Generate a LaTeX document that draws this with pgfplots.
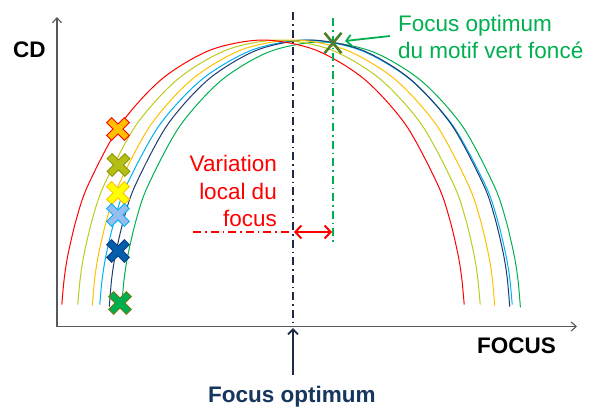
\documentclass[border=0pt]{standalone}
\usepackage{fontspec}
\setmainfont{Liberation Sans}
\usepackage{pgfplots}
\pgfplotsset{compat=1.18}
\usetikzlibrary{arrows.meta}
\definecolor{cRed}{HTML}{FF0000}
\definecolor{cYG}{HTML}{BCCB1C}
\definecolor{cOr}{HTML}{FFC000}
\definecolor{cLB}{HTML}{00B0F0}
\definecolor{cNavy}{HTML}{1F3A6E}
\definecolor{cGreen}{HTML}{00B050}
\definecolor{cAxis}{HTML}{595959}
\definecolor{cDark}{HTML}{1F2A44}
\definecolor{cTitle}{HTML}{17365D}
\definecolor{cOlive}{HTML}{4E7D2A}
\begin{document}
\begin{tikzpicture}
\begin{axis}[name=ax, scale only axis, width=597pt, height=407pt,
  xmin=0, xmax=597, ymin=0, ymax=407, y dir=reverse, hide axis, clip=false]
% axes
\addplot[cAxis, line width=1.1pt, -{Straight Barb[length=5pt,width=9pt]}] coordinates {(57,326.5) (577,326.5)};
\addplot[cAxis, line width=1.1pt, -{Straight Barb[length=5pt,width=9pt]}] coordinates {(57,326.5) (57,17)};
% curves
\addplot[cGreen, line width=1pt, smooth] coordinates {(121.6,307.4)(124,280)(127.8,255.5)(136.2,219.8)(147.8,186)(179.6,126.4)(221,80.6)(269.2,51.8)(321,42)(372.8,51.8)(421,80.6)(462.6,126.4)(494.2,186)(505.8,219.8)(514.2,255.5)(518,280)(520.4,307.4)};
\addplot[cLB, line width=1pt, smooth] coordinates {(99.8,304.7)(102.1,279.6)(106.1,254.9)(114.8,219)(126.7,185)(159.6,124.9)(202.5,78.9)(252.4,49.9)(306,40)(359.6,49.9)(409.5,78.9)(452.4,124.9)(485.3,185)(497.2,219)(505.9,254.9)(509.9,279.6)(512.2,304.7)};
\addplot[cNavy, line width=1pt, smooth] coordinates {(109.3,306.7)(111.6,279.6)(115.4,254.9)(123.8,219)(135.4,185)(167.4,124.9)(209,78.9)(257.5,49.9)(309.5,40)(361.5,49.9)(410,78.9)(451.6,124.9)(483.6,185)(495.2,219)(503.6,254.9)(507.4,279.6)(509.7,306.7)};
\addplot[cOr, line width=1pt, smooth] coordinates {(92.3,305.7)(94.6,279.6)(98.4,254.9)(106.9,219)(118.6,185)(150.7,124.9)(192.5,78.9)(241.2,49.9)(293.5,40)(345.8,49.9)(394.5,78.9)(436.3,124.9)(468.4,185)(480.1,219)(488.6,254.9)(492.4,279.6)(494.7,305.7)};
\addplot[cYG, line width=1pt, smooth] coordinates {(77.8,304.7)(80.1,279.6)(83.9,254.9)(92.4,219)(104.1,185)(136.2,124.9)(178,78.9)(226.7,49.9)(279,40)(331.3,49.9)(380,78.9)(421.8,124.9)(453.9,185)(465.6,219)(474.1,254.9)(477.9,279.6)(480.2,304.7)};
\addplot[cRed, line width=1pt, smooth] coordinates {(61.8,304.7)(64.1,279.6)(67.9,254.9)(76.4,219)(88.1,185)(120.2,124.9)(162,78.9)(210.7,49.9)(263,40)(315.3,49.9)(364,78.9)(405.8,124.9)(437.9,185)(449.6,219)(458.1,254.9)(461.9,279.6)(464.2,304.7)};
% guide lines
\addplot[cDark, line width=1.8pt, dash pattern=on 8pt off 4pt on 1.5pt off 4pt] coordinates {(293,12) (293,326)};
\addplot[cGreen, line width=1.8pt, dash pattern=on 8pt off 4pt on 1.5pt off 4pt] coordinates {(333,18) (333,245)};
\addplot[cRed, line width=1.8pt, dash pattern=on 8pt off 4pt on 1.5pt off 4pt] coordinates {(193,232) (291,232)};
\addplot[cRed, line width=2pt, {Straight Barb[length=6pt,width=13pt]}-{Straight Barb[length=6pt,width=13pt]}] coordinates {(294,232) (332,232)};
\addplot[cDark, line width=1.8pt, -{Straight Barb[length=5pt,width=10pt]}] coordinates {(293,375) (293,328)};
\addplot[cGreen, line width=1.8pt, -{Straight Barb[length=5pt,width=11pt]}] coordinates {(390,36) (345,41)};
% X markers: outline then fill
\addplot[only marks, mark=x, mark size=9, mark options={line width=8pt, line cap=rect, draw=cRed}] coordinates {(118,129)};
\addplot[only marks, mark=x, mark size=9, mark options={line width=6pt, line cap=rect, draw=cOr}] coordinates {(118,129)};
\addplot[only marks, mark=x, mark size=9, mark options={line width=8pt, line cap=rect, draw={rgb,255:red,140;green,150;blue,0}}] coordinates {(118.5,165)};
\addplot[only marks, mark=x, mark size=9, mark options={line width=6pt, line cap=rect, draw={rgb,255:red,180;green,190;blue,20}}] coordinates {(118.5,165)};
\addplot[only marks, mark=x, mark size=9, mark options={line width=8pt, line cap=rect, draw=cOr}] coordinates {(118,193)};
\addplot[only marks, mark=x, mark size=9, mark options={line width=6pt, line cap=rect, draw={rgb,255:red,255;green,255;blue,0}}] coordinates {(118,193)};
\addplot[only marks, mark=x, mark size=9, mark options={line width=8pt, line cap=rect, draw=cLB}] coordinates {(118,215)};
\addplot[only marks, mark=x, mark size=9, mark options={line width=6pt, line cap=rect, draw={rgb,255:red,150;green,188;blue,240}}] coordinates {(118,215)};
\addplot[only marks, mark=x, mark size=9, mark options={line width=8pt, line cap=rect, draw={rgb,255:red,20;green,60;blue,130}}] coordinates {(118,251)};
\addplot[only marks, mark=x, mark size=9, mark options={line width=6pt, line cap=rect, draw={rgb,255:red,0;green,94;blue,170}}] coordinates {(118,251)};
\addplot[only marks, mark=x, mark size=9, mark options={line width=8pt, line cap=rect, draw={rgb,255:red,120;green,120;blue,20}}] coordinates {(120,303)};
\addplot[only marks, mark=x, mark size=9, mark options={line width=6pt, line cap=rect, draw=cGreen}] coordinates {(120,303)};
\addplot[only marks, mark=x, mark size=12, mark options={line width=2.6pt, draw=cOlive, yscale=1.2}] coordinates {(333,43)};
% texts
\node[anchor=base west, inner sep=0pt, font=\fontsize{22.5}{27}\selectfont\bfseries] at (axis cs:13,57.3) {CD};
\node[anchor=base west, inner sep=0pt, font=\fontsize{22.5}{27}\selectfont\bfseries] at (axis cs:477,353.3) {FOCUS};
\node[anchor=base west, inner sep=0pt, text=cTitle, font=\fontsize{22.5}{27}\selectfont\bfseries] at (axis cs:208,402.3) {Focus optimum};
\node[anchor=base west, inner sep=0pt, text=cGreen, font=\fontsize{22.5}{27}\selectfont] at (axis cs:398,31.7) {Focus optimum};
\node[anchor=base west, inner sep=0pt, text=cGreen, font=\fontsize{22.5}{27}\selectfont] at (axis cs:398,58.3) {du motif vert foncé};
\node[anchor=base east, inner sep=0pt, text=cRed, font=\fontsize{22.5}{27}\selectfont] at (axis cs:277,171.7) {Variation};
\node[anchor=base east, inner sep=0pt, text=cRed, font=\fontsize{22.5}{27}\selectfont] at (axis cs:277,199) {local du};
\node[anchor=base east, inner sep=0pt, text=cRed, font=\fontsize{22.5}{27}\selectfont] at (axis cs:277,226.7) {focus};
\end{axis}
\pgfresetboundingbox
\path (ax.south west) rectangle (ax.north east);
\end{tikzpicture}
\end{document}
